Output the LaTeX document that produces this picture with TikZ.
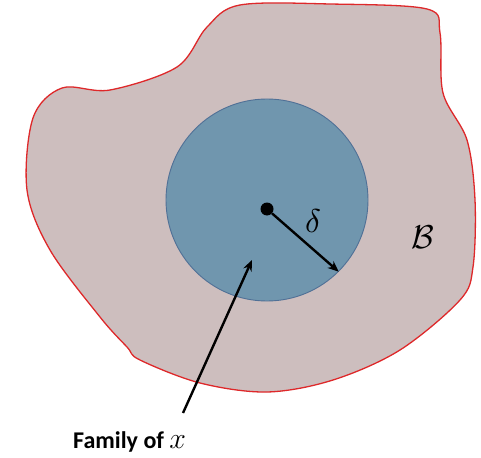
\documentclass[tikz,border=0pt]{standalone}
\usepackage{amsmath}
\usepackage{graphicx}
\usepackage{fontspec}
\newfontfamily\lblfont{Carlito}
\usetikzlibrary{arrows.meta,positioning}

\definecolor{bodyfill}{RGB}{205,190,190}
\definecolor{bodyline}{RGB}{222,40,42}
\definecolor{famfill}{RGB}{112,150,174}
\definecolor{famline}{RGB}{80,112,150}

\begin{document}
\begin{tikzpicture}[x=1pt, y=-1pt,
    every node/.style={inner sep=0pt},
    body/.style={fill=bodyfill, draw=bodyline, line width=1.3pt},
    fam/.style={circle, fill=famfill, draw=famline, line width=0.9pt,
                minimum size=202pt},
    pt/.style={circle, fill=black, minimum size=13pt},
    e/.style={-{Stealth[length=11pt, width=9pt]}, line width=2.4pt},
    lbl/.style={font=\lblfont\bfseries\fontsize{24}{28}\selectfont},
  ]
  \useasboundingbox (0,0) rectangle (481,457);
  % body B
  \draw[body] plot[smooth cycle, tension=0.55] coordinates {
      (62,88) (110,90) (177,67) (207,27) (240,5) (330,4) (427,9)
      (440,33) (443,93) (467,140) (475,200) (473,267) (460,300)
      (400,350) (333,380) (267,392) (200,383) (140,360) (127,347)
      (100,317) (50,250) (27,190) (33,118)};
  \node[fam] (horizon) at (267,200) {};
  \node[pt] (x) at (267,209) {};
  \coordinate (rim) at (horizon.-45);
  \draw[e] (x) -- (rim);
  \node (delta) at (313,221) {\scalebox{3.3}{$\delta$}};
  \node (B) at (423,237) {\scalebox{3.3}{$\mathcal{B}$}};
  \node[lbl, anchor=base west] (famlbl) at (73,448) {Family of \scalebox{1.2}{$x$}};
  \coordinate (tail) at (183,413);
  \coordinate (tip) at (252,260);
  \draw[e] (tail) -- (tip);
\end{tikzpicture}
\end{document}
